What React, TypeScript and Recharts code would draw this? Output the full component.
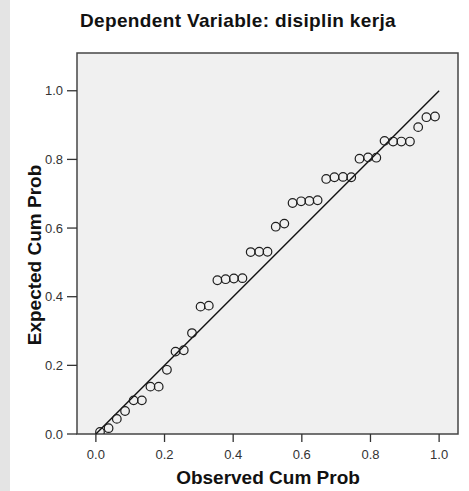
import React from 'react';
import { ScatterChart, Scatter, XAxis, YAxis, ReferenceLine, ReferenceArea } from 'recharts';

const titleText = 'Dependent Variable: disiplin kerja';
const xLabelText = 'Observed Cum Prob';
const yLabelText = 'Expected Cum Prob';

const tickValues = [0, 0.2, 0.4, 0.6, 0.8, 1.0];

const observedCumProb = [
  0.012, 0.037, 0.061, 0.085, 0.110, 0.134, 0.159, 0.183, 0.207, 0.232,
  0.256, 0.280, 0.305, 0.329, 0.354, 0.378, 0.402, 0.427, 0.451, 0.476,
  0.500, 0.524, 0.549, 0.573, 0.598, 0.622, 0.646, 0.671, 0.695, 0.720,
  0.744, 0.768, 0.793, 0.817, 0.841, 0.866, 0.890, 0.915, 0.939, 0.963,
  0.988,
];

const expectedCumProb = [
  0.006, 0.017, 0.044, 0.067, 0.098, 0.098, 0.138, 0.138, 0.187, 0.240,
  0.244, 0.294, 0.371, 0.374, 0.448, 0.451, 0.453, 0.454, 0.530, 0.531,
  0.531, 0.604, 0.613, 0.673, 0.678, 0.679, 0.681, 0.743, 0.748, 0.749,
  0.748, 0.802, 0.806, 0.805, 0.854, 0.852, 0.852, 0.852, 0.894, 0.923,
  0.925,
];

const points = observedCumProb.map((x, i) => ({ x, y: expectedCumProb[i] }));

const FONT = 'Arial, "Liberation Sans", Helvetica, sans-serif';

const RingShape = (props: any) => {
  const { cx, cy } = props;
  if (cx == null || cy == null) return null;
  return <circle cx={cx} cy={cy} r={4.3} fill="none" stroke="#1e1e1e" strokeWidth={1.2} />;
};

const fmt = (v: number) => v.toFixed(1);

export default function App() {
  return (
    <div style={{ position: 'absolute', left: 0, top: 0, width: 469, height: 491, background: '#fff', fontFamily: FONT }}>
      <div style={{ position: 'absolute', left: 0, top: 0, width: 10, height: 491, background: '#e4e4e4' }} />
      <ScatterChart
        width={469}
        height={491}
        margin={{ top: 53, right: 11, bottom: 0, left: 0 }}
        style={{ position: 'absolute', left: 0, top: 0 }}
      >
        <XAxis
          type="number"
          dataKey="x"
          domain={[-0.055, 1.055]}
          ticks={tickValues}
          tickFormatter={fmt}
          allowDataOverflow
          height={57}
          axisLine={false}
          tickLine={{ stroke: '#333', strokeWidth: 1.3 }}
          tickSize={8}
          tickMargin={8}
          tick={{ fill: '#333', fontSize: 13, fontFamily: FONT }}
          label={{
            content: () => (
              <text x={268} y={484} textAnchor="middle" fontSize={19} fontWeight="bold" fill="#111" fontFamily={FONT}>
                {xLabelText}
              </text>
            ),
          }}
        />
        <YAxis
          type="number"
          dataKey="y"
          domain={[0, 1.11]}
          ticks={tickValues}
          tickFormatter={fmt}
          allowDataOverflow
          width={77}
          axisLine={false}
          tickLine={{ stroke: '#333', strokeWidth: 1.3 }}
          tickSize={10}
          tickMargin={4}
          tick={{ fill: '#333', fontSize: 13, fontFamily: FONT }}
          label={{
            content: () => (
              <text
                transform="translate(40.5,255) rotate(-90)"
                x={0}
                y={0}
                textAnchor="middle"
                fontSize={19}
                fontWeight="bold"
                fill="#111"
                fontFamily={FONT}
              >
                {yLabelText}
              </text>
            ),
          }}
        />
        <ReferenceArea
          x1={-0.055}
          x2={1.055}
          y1={0}
          y2={1.11}
          fill="#f0f0f0"
          fillOpacity={1}
          stroke="#454545"
          strokeWidth={1.5}
          ifOverflow="visible"
        />
        <ReferenceLine
          segment={[{ x: 0, y: 0 }, { x: 1, y: 1 }]}
          stroke="#111"
          strokeWidth={1.4}
          ifOverflow="visible"
        />
        <Scatter data={points} shape={RingShape} isAnimationActive={false} />
      </ScatterChart>
      <svg width={469} height={40} style={{ position: 'absolute', left: 0, top: 0, pointerEvents: 'none' }}>
        <text x={238} y={27} textAnchor="middle" fontSize={19} fontWeight="bold" letterSpacing={0.35} fill="#111" fontFamily={FONT}>
          {titleText}
        </text>
      </svg>
    </div>
  );
}
